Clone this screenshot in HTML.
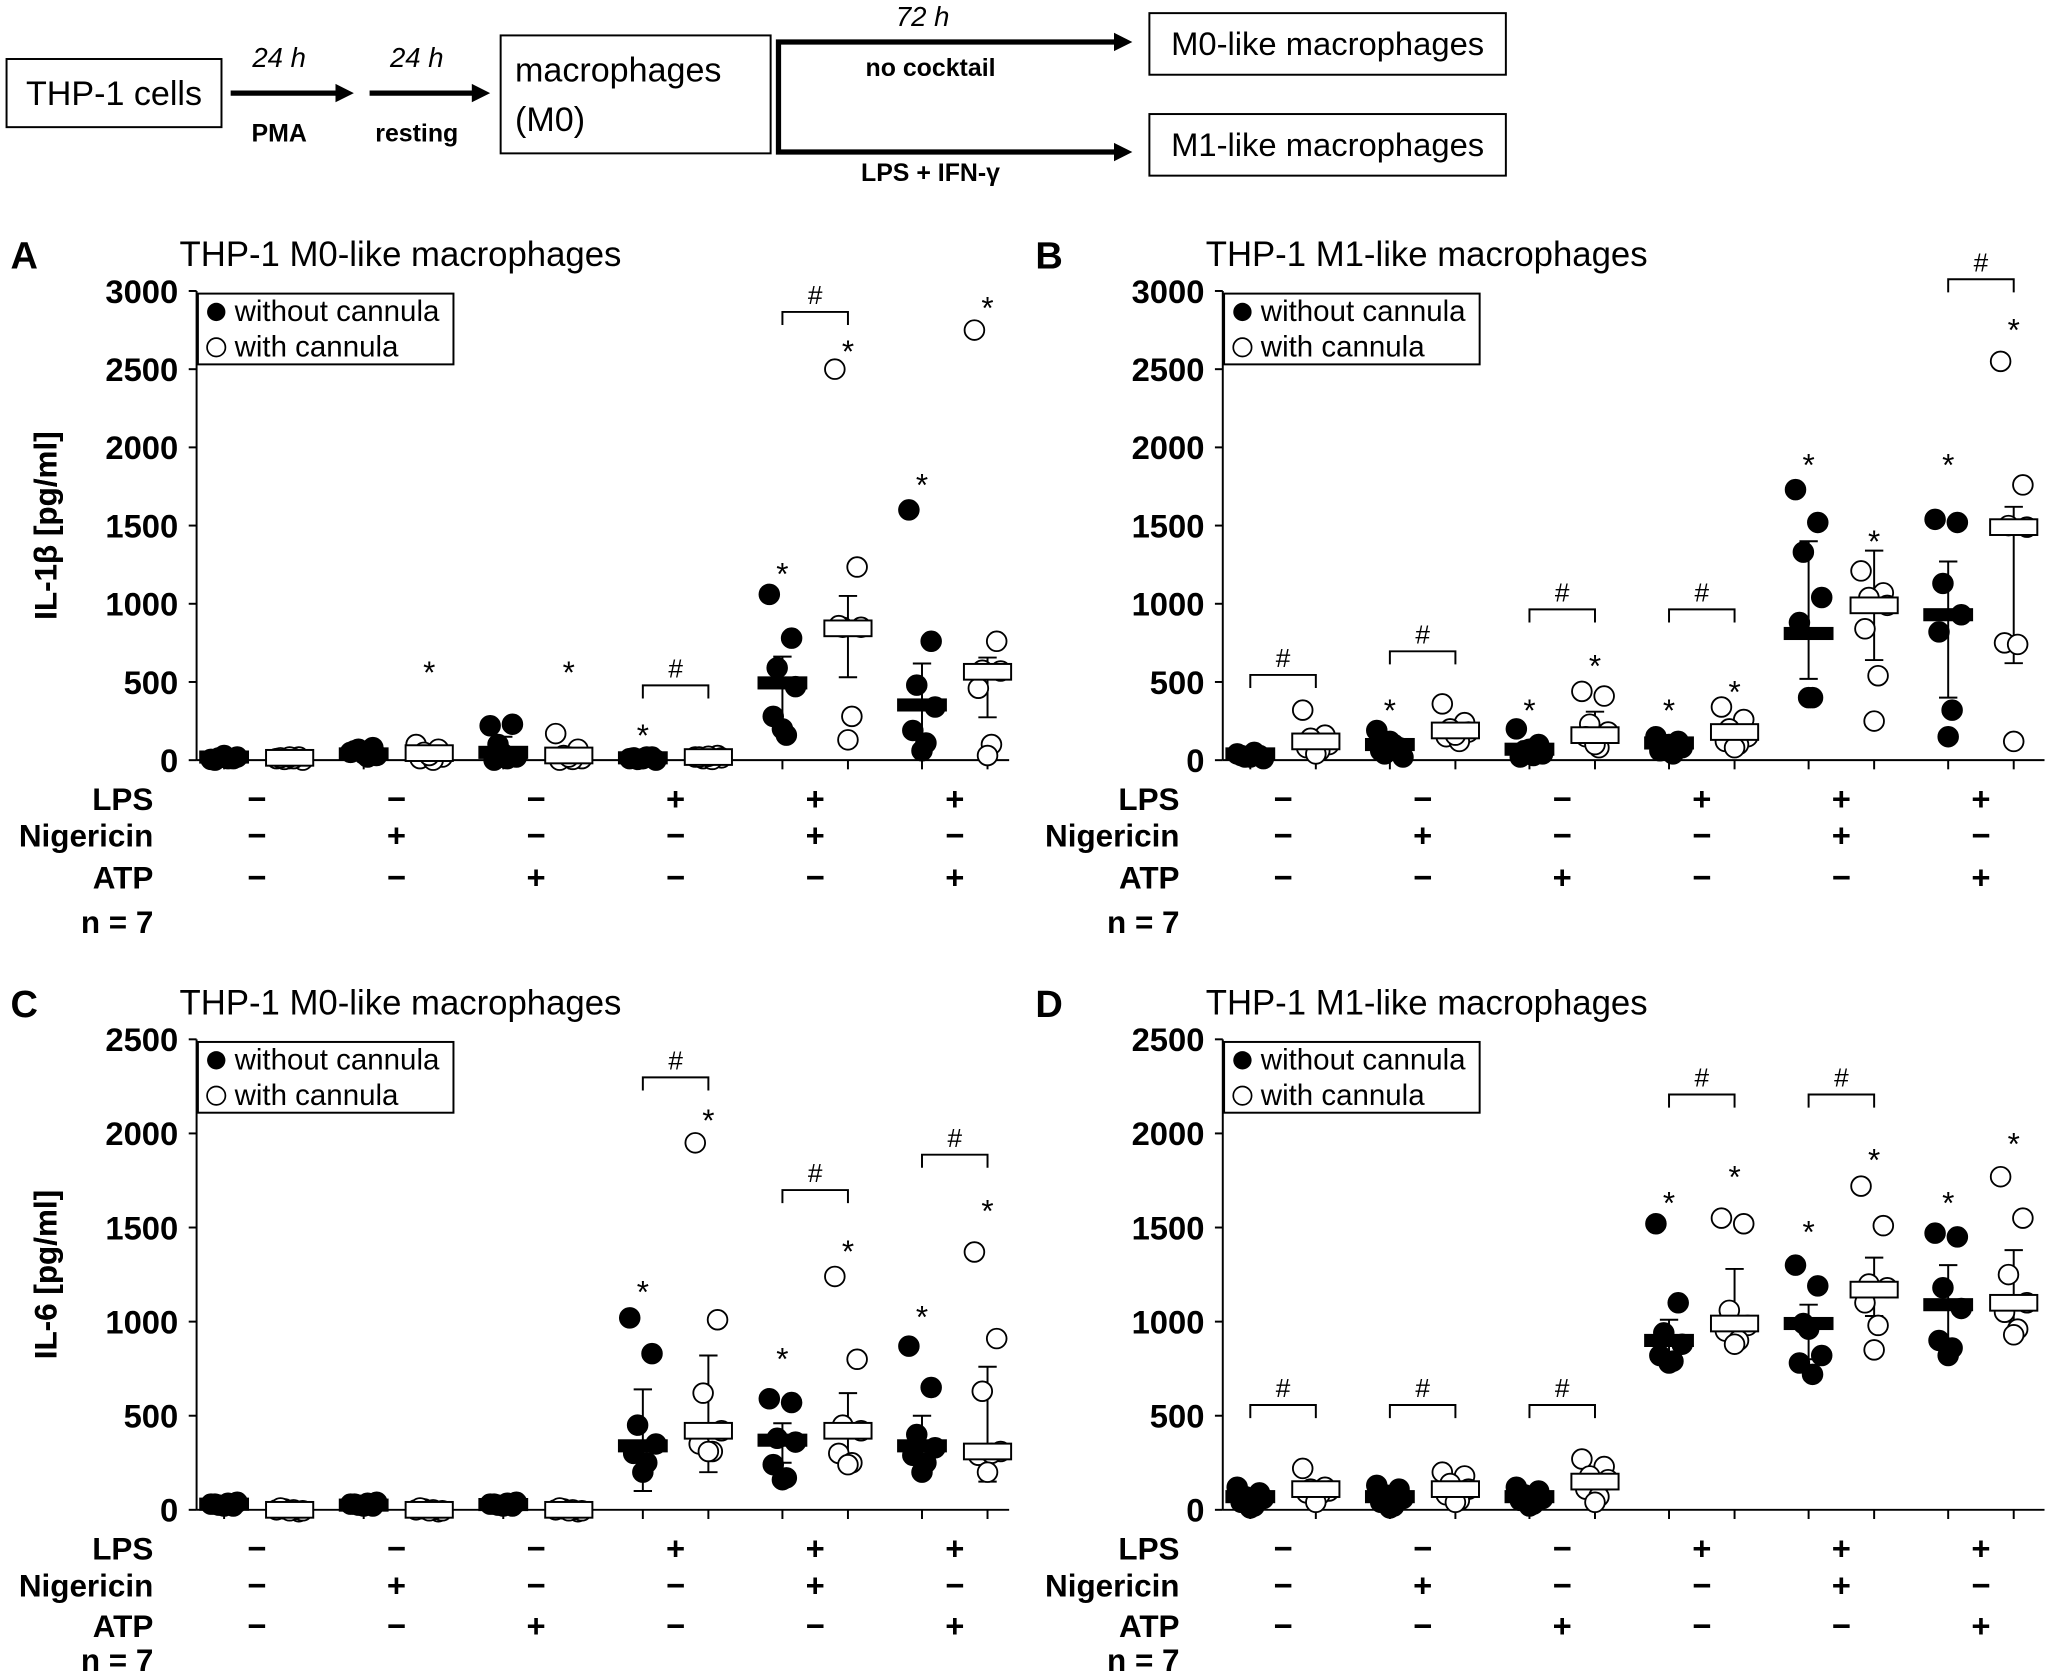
<!DOCTYPE html>
<html><head><meta charset="utf-8"><title>THP-1 macrophages IL-1β / IL-6</title>
<style>
html,body{margin:0;padding:0;background:#fff;}
svg{display:block;font-family:"Liberation Sans",Arial,sans-serif;}
</style></head>
<body>
<svg id="fig" xmlns="http://www.w3.org/2000/svg" width="2055" height="1678" viewBox="0 0 1568 1280.3">
<g id="flow">
  <rect x="5" y="45" width="164" height="52" fill="#fff" stroke="#000" stroke-width="1.5"/>
  <text x="87" y="80" font-size="26" text-anchor="middle">THP-1 cells</text>
  <line x1="176" y1="71" x2="258" y2="71" stroke="#000" stroke-width="4"/>
  <polygon points="256,64 270,71 256,78"/>
  <text x="213" y="51" font-size="21" font-style="italic" text-anchor="middle">24 h</text>
  <text x="213" y="108" font-size="19" font-weight="bold" text-anchor="middle">PMA</text>
  <line x1="282" y1="71" x2="362" y2="71" stroke="#000" stroke-width="4"/>
  <polygon points="360,64 374,71 360,78"/>
  <text x="318" y="51" font-size="21" font-style="italic" text-anchor="middle">24 h</text>
  <text x="318" y="108" font-size="19" font-weight="bold" text-anchor="middle">resting</text>
  <rect x="382" y="27" width="206" height="90" fill="#fff" stroke="#000" stroke-width="1.5"/>
  <text x="393" y="62" font-size="26">macrophages</text>
  <text x="393" y="100" font-size="26">(M0)</text>
  <path d="M594,32 V117 M592,32 H852 M592,116 H852" stroke="#000" stroke-width="4" fill="none"/>
  <polygon points="850,25 864,32 850,39"/>
  <polygon points="850,109 864,116 850,123"/>
  <text x="704" y="20" font-size="21" font-style="italic" text-anchor="middle">72 h</text>
  <text x="710" y="58" font-size="19" font-weight="bold" text-anchor="middle">no cocktail</text>
  <text x="710" y="138" font-size="19" font-weight="bold" text-anchor="middle">LPS + IFN-γ</text>
  <rect x="877" y="10" width="272" height="47" fill="#fff" stroke="#000" stroke-width="1.5"/>
  <text x="1013" y="42" font-size="25" text-anchor="middle">M0-like macrophages</text>
  <rect x="877" y="87" width="272" height="47" fill="#fff" stroke="#000" stroke-width="1.5"/>
  <text x="1013" y="119" font-size="25" text-anchor="middle">M1-like macrophages</text>
</g>
</svg>
<script>
// ---------- DATA (values in pg/ml) ----------
var panelLetters = ["A","B","C","D"];
var panelTitles = ["THP-1 M0-like macrophages","THP-1 M1-like macrophages","THP-1 M0-like macrophages","THP-1 M1-like macrophages"];
var yTitles = ["IL-1β [pg/ml]","IL-1β [pg/ml]","IL-6 [pg/ml]","IL-6 [pg/ml]"];
var ticksIL1 = [0,500,1000,1500,2000,2500,3000];
var ticksIL6 = [0,500,1000,1500,2000,2500];
var rowLabels = ["LPS","Nigericin","ATP"];
var lpsRow = ["−","−","−","+","+","+"];
var nigRow = ["−","+","−","−","+","−"];
var atpRow = ["−","−","+","−","−","+"];

// Panel A
var aWithout = [[5,10,15,20,0,10,30],[50,80,70,30,60,20,40],[220,230,100,20,0,10,40],[10,20,5,0,15,20,10],[1060,780,590,470,280,160,200],[1600,760,480,340,190,110,60]];
var aWith = [[10,20,5,0,15,10,20],[100,70,50,20,10,0,30],[170,70,30,10,0,5,20],[20,30,10,15,20,5,25],[2500,1235,850,850,860,280,130],[2750,760,575,570,460,100,30]];
var aMeanWithout = [20,40,50,15,494,353];
var aMeanWith = [15,45,30,20,843,565];
var aErrWithout = [[0,30],[20,60],[0,150],[0,20],[220,662],[90,618]];
var aErrWith = [[0,20],[20,70],[0,50],[10,30],[530,1050],[274,656]];
var aStarWithout = [null,null,null,226,1257,1827];
var aStarWith = [null,628,628,null,2681,2958];
var aBracket = [null,null,null,478,2866,null];

// Panel B
var bWithout = [[40,30,20,10,30,50,20],[190,80,40,20,60,100,120],[200,100,60,40,20,30,70],[150,120,100,80,60,40,100],[1730,1520,1330,1040,880,400,400],[1540,1520,1130,930,820,320,150]];
var bWith = [[320,160,140,100,80,60,40],[360,240,200,180,150,120,160],[440,410,230,180,150,80,100],[340,260,200,150,120,100,80],[1210,1070,1040,990,840,540,250],[2550,1760,1500,1490,750,740,120]];
var bMeanWithout = [40,100,70,110,810,930];
var bMeanWith = [120,190,160,180,990,1490];
var bErrWithout = [[20,60],[50,150],[30,120],[80,140],[520,1400],[400,1270]];
var bErrWith = [[60,180],[140,240],[80,310],[110,250],[640,1340],[620,1620]];
var bStarWithout = [null,385,385,385,1953,1953];
var bStarWith = [null,null,670,503,1466,2816];
var bBracket = [545,696,964,964,null,3075];

// Panel C
var cWithout = [[30,20,25,40,30,35,20],[30,20,25,40,30,35,20],[30,20,25,40,30,35,20],[1020,830,450,350,300,250,200],[590,570,380,360,240,170,160],[870,650,400,330,290,250,200]];
var cWith = [[0,-10,5,-5,10,0,-5],[0,-10,5,-5,10,0,-5],[0,-10,5,-5,10,0,-5],[1950,1010,620,420,350,310,310],[1240,800,450,420,300,250,240],[1370,910,630,310,290,300,200]];
var cMeanWithout = [30,25,28,340,370,340];
var cMeanWith = [0,0,0,420,420,310];
var cErrWithout = [[20,40],[20,35],[20,35],[100,640],[250,460],[200,500]];
var cErrWith = [[-5,5],[-5,5],[-5,5],[200,820],[250,620],[150,760]];
var cStarWithout = [null,null,null,1212,857,1079];
var cStarWith = [null,null,null,2124,1428,1643];
var cBracket = [null,null,null,2298,1699,1887];

// Panel D
var dWithout = [[120,90,70,60,40,20,10],[130,110,80,60,40,20,10],[120,100,80,60,50,30,20],[1520,1100,940,880,820,790,780],[1300,1190,990,820,780,720,960],[1470,1450,1180,1070,900,860,820]];
var dWith = [[220,120,110,100,90,80,40],[200,180,140,110,80,50,40],[270,230,180,160,110,70,40],[1550,1520,1060,980,950,900,880],[1720,1510,1200,1180,1100,980,850],[1770,1550,1250,1100,1050,960,930]];
var dMeanWithout = [70,70,70,900,990,1090];
var dMeanWith = [110,110,150,990,1170,1100];
var dErrWithout = [[40,100],[40,100],[40,100],[790,1010],[800,1090],[880,1300]];
var dErrWith = [[80,140],[80,140],[100,200],[880,1280],[1030,1340],[1000,1380]];
var dStarWithout = [null,null,null,1685,1532,1685];
var dStarWith = [null,null,null,1824,1915,2000];
var dBracket = [557,557,557,2207,2207,null];

// ---------- RENDER ----------
var NS = "http://www.w3.org/2000/svg";
var svg = document.getElementById("fig");
function mk(tag, attrs, parent, txt){
  var e = document.createElementNS(NS, tag);
  for (var k in attrs) e.setAttribute(k, attrs[k]);
  if (txt !== undefined) e.textContent = txt;
  (parent||svg).appendChild(e);
  return e;
}
var panels = [
  {ax:150, top:222, bot:580, max:3000, ticks:ticksIL1, xend:770, lx:8, ty:195, rows:[609,637,669,703],
   w:aWithout, c:aWith, mw:aMeanWithout, mc:aMeanWith, ew:aErrWithout, ec:aErrWith, sw:aStarWithout, sc:aStarWith, br:aBracket},
  {ax:933, top:222, bot:580, max:3000, ticks:ticksIL1, xend:1560, lx:790, ty:195, rows:[609,637,669,703],
   w:bWithout, c:bWith, mw:bMeanWithout, mc:bMeanWith, ew:bErrWithout, ec:bErrWith, sw:bStarWithout, sc:bStarWith, br:bBracket},
  {ax:150, top:793, bot:1152, max:2500, ticks:ticksIL6, xend:770, lx:8, ty:766, rows:[1181,1209,1240,1266],
   w:cWithout, c:cWith, mw:cMeanWithout, mc:cMeanWith, ew:cErrWithout, ec:cErrWith, sw:cStarWithout, sc:cStarWith, br:cBracket},
  {ax:933, top:793, bot:1152, max:2500, ticks:ticksIL6, xend:1560, lx:790, ty:766, rows:[1181,1209,1240,1266],
   w:dWithout, c:dWith, mw:dMeanWithout, mc:dMeanWith, ew:dErrWithout, ec:dErrWith, sw:dStarWithout, sc:dStarWith, br:dBracket}
];
var jit = [-10,7,-4,10,-7,3,0];
var off = 25, spacing = 106.5;

panels.forEach(function(p, pi){
  var g = mk("g", {});
  
  
  function y(v){ return p.bot - v/p.max*(p.bot-p.top); }
  function cx(i){ return p.ax + 46 + i*spacing; }

  var t = mk("text", {x:p.lx, y:p.ty+10, "font-size":29, "font-weight":"bold"}, g, panelLetters[pi]);
  
  
  var tt = mk("text", {x:p.ax-13, y:p.ty+8, "font-size":26.5}, g, panelTitles[pi]);
  
  

  var ya = mk("line", {x1:p.ax, y1:p.top, x2:p.ax, y2:p.bot, stroke:"#000", "stroke-width":1.5}, g);
  
  
  var xa = mk("line", {x1:p.ax, y1:p.bot, x2:p.xend, y2:p.bot, stroke:"#000", "stroke-width":1.5}, g);
  
  
  p.ticks.forEach(function(v){
    var tk = mk("line", {x1:p.ax-6, y1:y(v), x2:p.ax, y2:y(v), stroke:"#000", "stroke-width":1.5}, g);
    
    
    var tl = mk("text", {x:p.ax-14, y:y(v)+9, "font-size":25, "font-weight":"bold", "text-anchor":"end"}, g, String(v));
    
    
  });
  var yt = mk("text", {transform:"translate(43,"+((p.top+p.bot)/2)+") rotate(-90)", "font-size":24, "font-weight":"bold", "text-anchor":"middle"}, g, yTitles[pi]);
  
  

  var lg = mk("g", {}, g);
  
  
  mk("rect", {x:p.ax+1, y:p.top+2, width:195, height:54, fill:"#fff", stroke:"#000", "stroke-width":1.5}, lg);
  mk("circle", {cx:p.ax+15, cy:p.top+16, r:7, fill:"#000"}, lg);
  var l1 = mk("text", {x:p.ax+29, y:p.top+23, "font-size":22.5}, lg, "without cannula");
  
  
  mk("circle", {cx:p.ax+15, cy:p.top+43, r:7, fill:"#fff", stroke:"#000", "stroke-width":1.3}, lg);
  var l2 = mk("text", {x:p.ax+29, y:p.top+50, "font-size":22.5}, lg, "with cannula");
  
  

  var rowsAll = [lpsRow, nigRow, atpRow];
  rowLabels.forEach(function(lbl, ri){
    var rl = mk("text", {x:p.ax-33, y:p.rows[ri]+9, "font-size":24, "font-weight":"bold", "text-anchor":"end"}, g, lbl);
    
    
    rowsAll[ri].forEach(function(s, gi){
      var sy = mk("text", {x:cx(gi), y:p.rows[ri]+9, "font-size":25, "font-weight":"bold", "text-anchor":"middle"}, g, s);
      
      
    });
  });
  var nl = mk("text", {x:p.ax-33, y:p.rows[3]+9, "font-size":24, "font-weight":"bold", "text-anchor":"end"}, g, "n = 7");
  
  

  for (var gi=0; gi<6; gi++){
    [0,1].forEach(function(si){
      var x = cx(gi) + (si===0 ? -off : off);
      var pts = si===0 ? p.w[gi] : p.c[gi];
      var mean = si===0 ? p.mw[gi] : p.mc[gi];
      var err = si===0 ? p.ew[gi] : p.ec[gi];
      var star = si===0 ? p.sw[gi] : p.sc[gi];
      var sg = mk("g", {}, g);
      
      
      var tk = mk("line", {x1:x, y1:p.bot, x2:x, y2:p.bot+7, stroke:"#000", "stroke-width":1.5}, sg);
      
      
      var eb = mk("path", {d:"M"+x+","+y(err[0])+" V"+y(err[1])+" M"+(x-7)+","+y(err[1])+" H"+(x+7)+" M"+(x-7)+","+y(err[0])+" H"+(x+7), stroke:"#000", "stroke-width":1.5, fill:"none"}, sg);
      
      
      pts.forEach(function(v, k){
        var c = mk("circle", {cx:x+jit[k], cy:y(v), r:7.5, fill: si===0 ? "#000" : "#fff", stroke:"#000", "stroke-width":1.4}, sg);
        
        
      });
      var mb;
      if (si===0) mb = mk("rect", {x:x-19, y:y(mean)-5, width:38, height:10, fill:"#000"}, sg);
      else mb = mk("rect", {x:x-18, y:y(mean)-6, width:36, height:12, fill:"#fff", stroke:"#000", "stroke-width":1.5}, sg);
      
      
      if (star !== null){
        var st = mk("text", {x:x, y:y(star)+16, "font-size":24, "text-anchor":"middle"}, sg, "*");
        
        
      }
    });
    if (p.br[gi] !== null){
      var by = y(p.br[gi]);
      var x1 = cx(gi)-off, x2 = cx(gi)+off;
      var bk = mk("path", {d:"M"+x1+","+(by+10)+" V"+by+" H"+x2+" V"+(by+10), stroke:"#000", "stroke-width":1.5, fill:"none"}, g);
      
      
      var hs = mk("text", {x:cx(gi), y:by-6, "font-size":20, "text-anchor":"middle"}, g, "#");
      
      
    }
  }
});
</script>
</body></html>
